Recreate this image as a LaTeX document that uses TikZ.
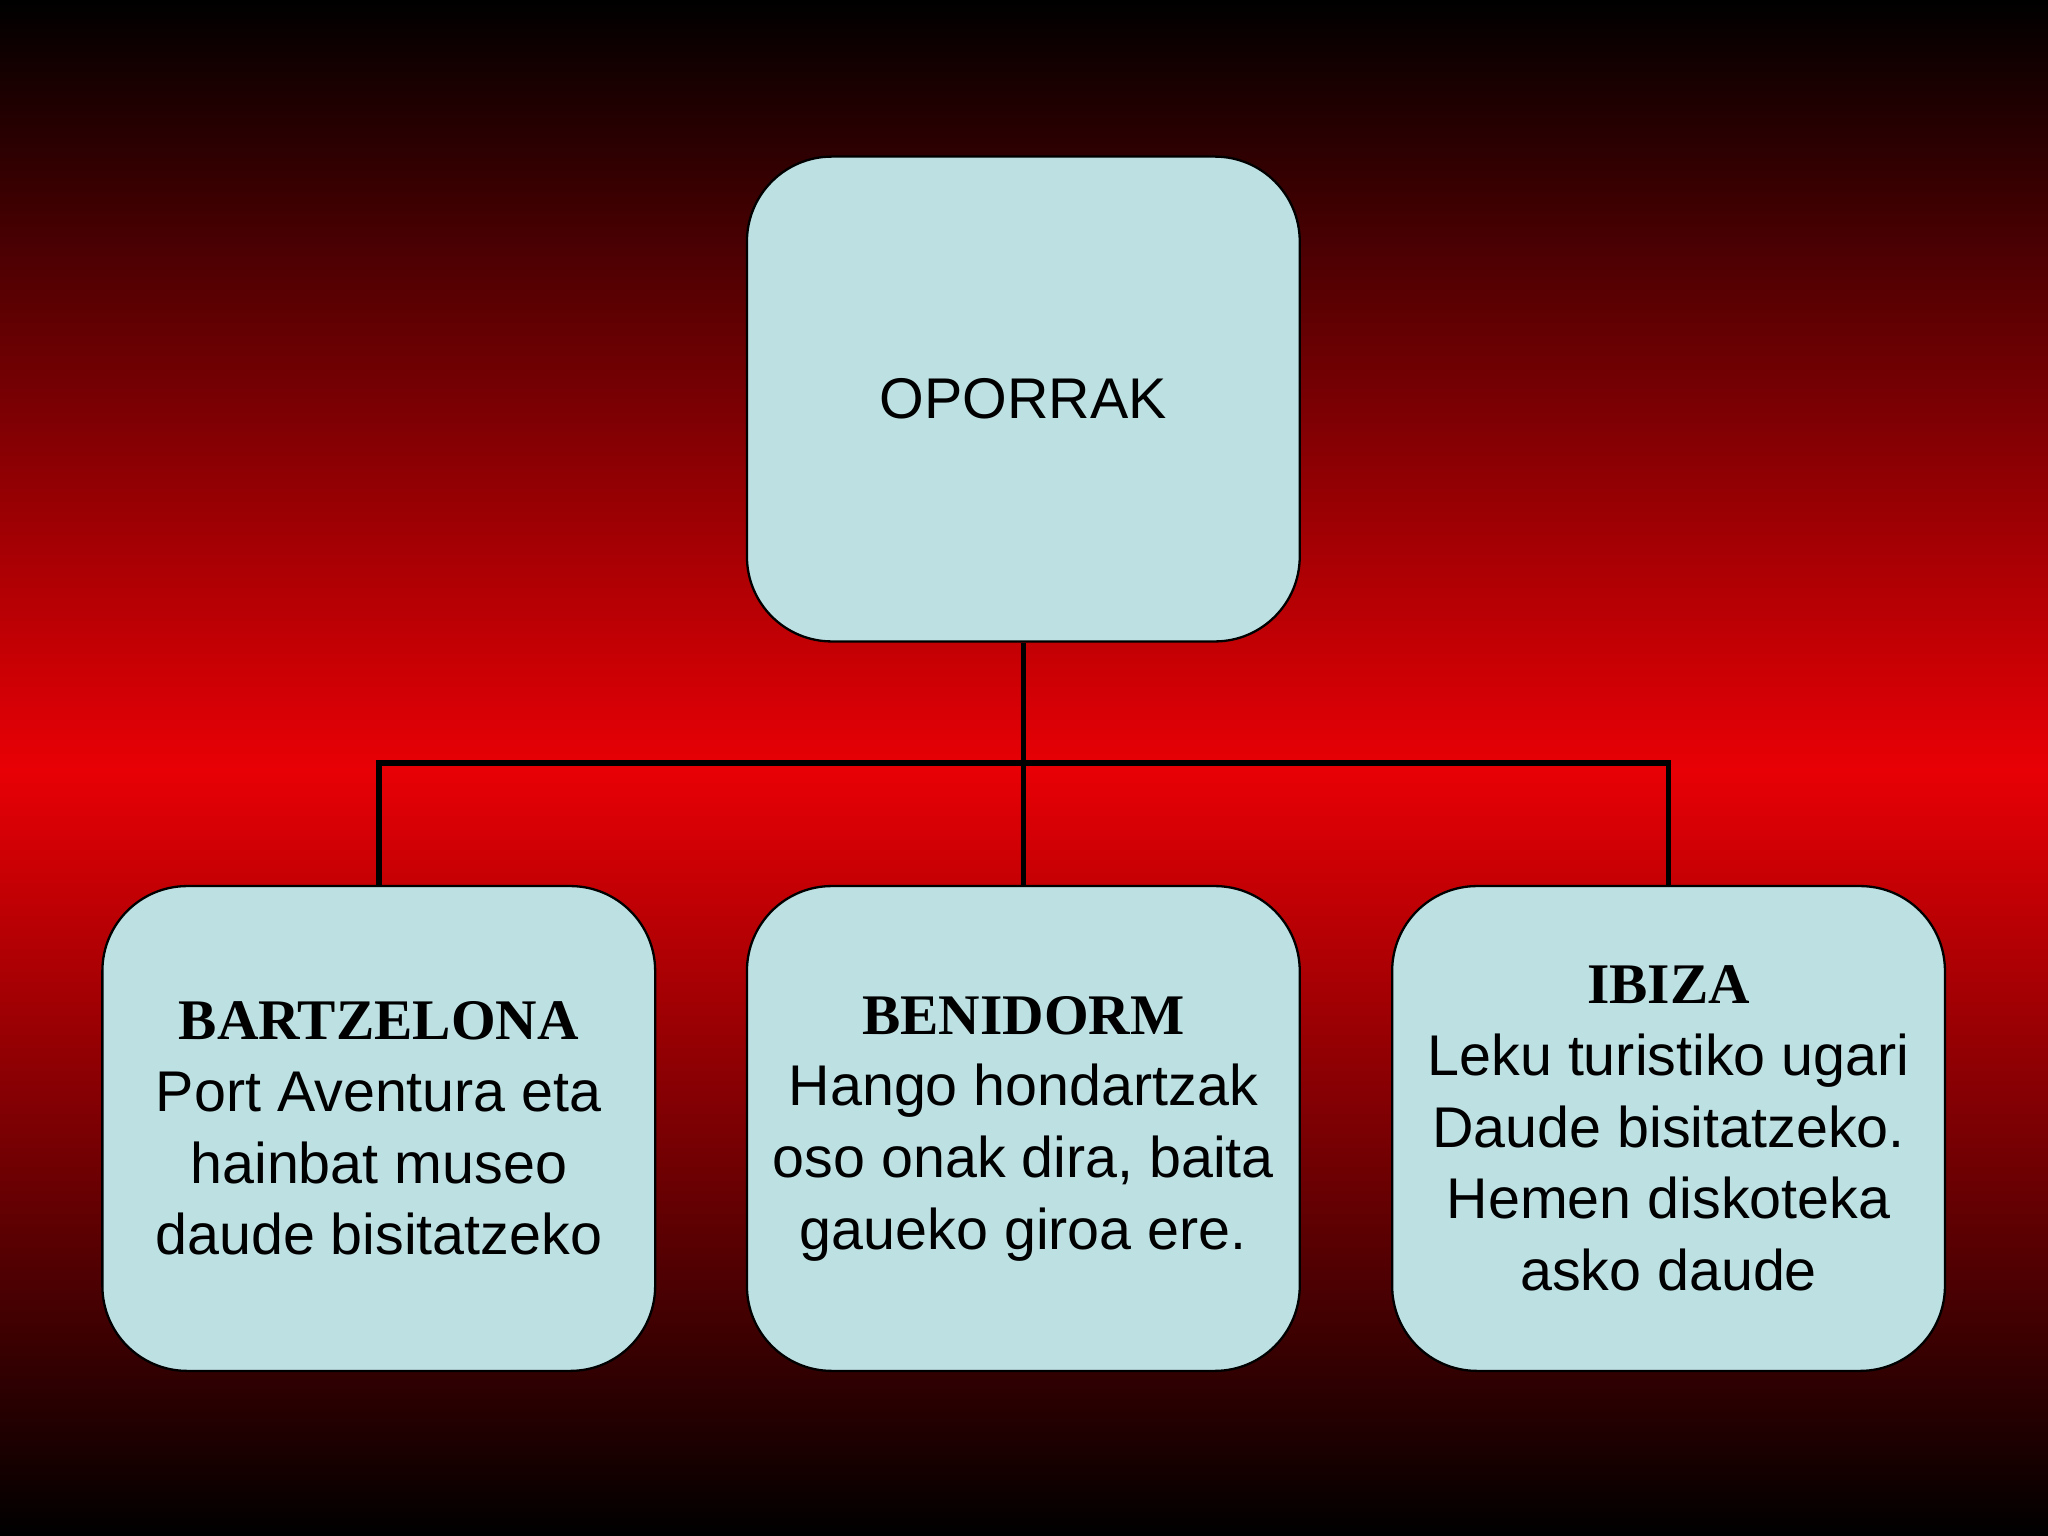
\documentclass[tikz,border=0pt]{standalone}
\usepackage{fontspec}
\setmainfont{Liberation Sans}
\newfontfamily\titlefont{Liberation Serif}
\definecolor{boxfill}{HTML}{BDE0E3}
\definecolor{bgred}{HTML}{E80005}
\begin{document}
\begin{tikzpicture}[x=0.01cm,y=-0.01cm]
\tikzset{
  box/.style={draw=black,fill=boxfill,rounded corners=0.65cm,minimum width=4.23cm,minimum height=3.71cm,align=center,font=\fontsize{12.5}{15.6}\selectfont,inner sep=0pt,line width=0.5pt},
  ttl/.style={font=\titlefont\bfseries\fontsize{12.5}{15.6}\selectfont},
  conn/.style={line width=1.2pt}
}
\shade[top color=black,bottom color=black,middle color=bgred] (0,0) rectangle (1568,1176);
\useasboundingbox (0,0) rectangle (1568,1176);
\node[box] (top) at (783.5,305.5) {OPORRAK};
\node[box] (b1) at (290,864) {{\titlefont\bfseries BARTZELONA}\\Port Aventura eta\\hainbat museo\\daude bisitatzeko};
\node[box] (b2) at (783.5,864) {{\titlefont\bfseries BENIDORM}\\Hango hondartzak\\oso onak dira, baita\\gaueko giroa ere.};
\node[box] (b3) at (1277.5,864) {{\titlefont\bfseries IBIZA}\\Leku turistiko ugari\\Daude bisitatzeko.\\Hemen diskoteka\\asko daude};
\coordinate (j) at (783.5,584);
\draw[conn] (top.south) -- (b2.north);
\draw[conn] (j) -| (b1.north);
\draw[conn] (j) -| (b3.north);
\end{tikzpicture}
\end{document}
